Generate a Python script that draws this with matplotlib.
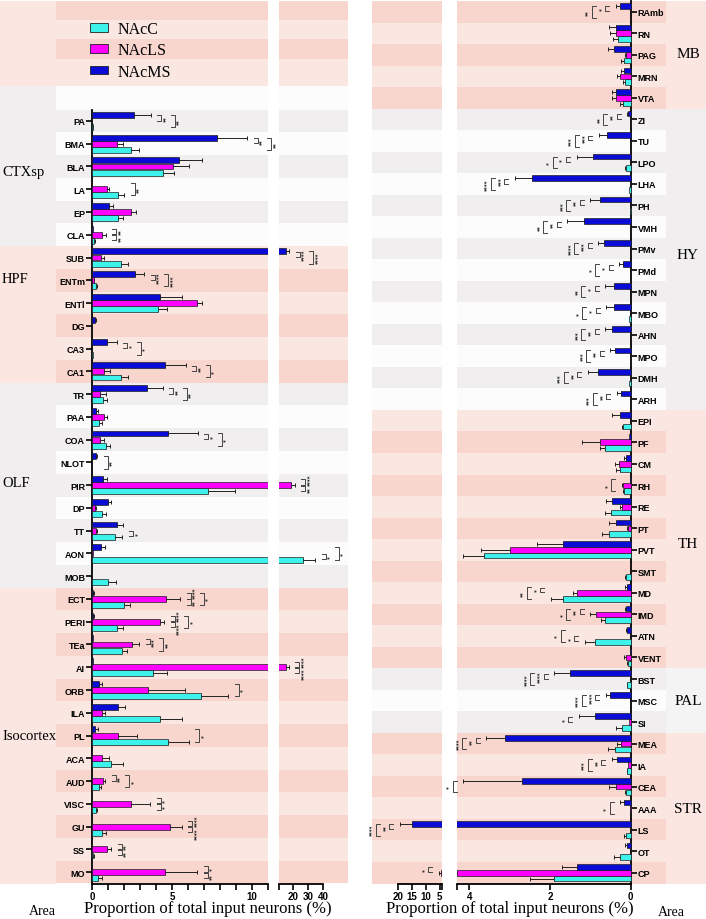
import numpy as np
import matplotlib.pyplot as plt
from matplotlib.patches import Patch

W, H = 706, 920
plt.rcParams['font.family'] = ['Liberation Sans', 'DejaVu Sans']
SERIF = ['Liberation Serif', 'DejaVu Serif']

C_NACC = '#3CF2EA'
C_NACLS = '#FF00FF'
C_NACMS = '#0B0BD6'
EDGE = '#202020'
PINK = ('#F8D5CD', '#FBE7E2')
GREY = ('#F0EEEE', '#FCFCFC')
COL_PINK = '#FBE6E1'
COL_GREY = '#F0EEEE'

series = ['NAcC', 'NAcLS', 'NAcMS']

# ---------------- left panel (cortex, hippocampus, olfactory) ----------------
left_regions = ['PA', 'BMA', 'BLA', 'LA', 'EP', 'CLA',
                'SUB', 'ENTm', 'ENTl', 'DG', 'CA3', 'CA1',
                'TR', 'PAA', 'COA', 'NLOT', 'PIR', 'DP', 'TT', 'AON', 'MOB',
                'ECT', 'PERI', 'TEa', 'AI', 'ORB', 'ILA', 'PL', 'ACA', 'AUD',
                'VISC', 'GU', 'SS', 'MO']
left_groups = ['CTXsp', 'HPF', 'OLF', 'Isocortex']
left_group_sizes = [6, 6, 9, 13]

left_nacc = [0.05, 2.42, 4.42, 1.65, 1.60, 0.15,
             1.79, 0.23, 4.13, 0.00, 0.05, 1.79,
             0.67, 0.46, 0.88, 0.02, 7.23, 0.63, 1.46, 26.7, 1.02,
             2.02, 1.58, 1.88, 3.83, 6.83, 4.27, 4.73, 1.19, 0.46,
             0.23, 0.63, 0.08, 0.38]
left_nacc_err = [0.03, 0.54, 0.71, 0.35, 0.36, 0.05,
                 0.48, 0.07, 0.54, 0.00, 0.00, 0.48,
                 0.29, 0.14, 0.25, 0.00, 1.73, 0.25, 0.42, 7.8, 0.48,
                 0.36, 0.34, 0.33, 0.87, 1.69, 1.38, 1.33, 0.73, 0.10,
                 0.10, 0.25, 0.04, 0.22]
left_nacls = [0.00, 1.58, 5.04, 0.92, 2.42, 0.65,
              0.54, 0.10, 6.54, 0.00, 0.00, 0.73,
              0.52, 0.73, 0.52, 0.00, 18.5, 0.17, 0.23, 0.05, 0.00,
              4.65, 4.25, 2.52, 15.1, 3.52, 0.63, 1.65, 0.60, 0.71,
              2.46, 4.90, 0.92, 4.58]
left_nacls_err = [0.00, 0.38, 1.02, 0.12, 0.31, 0.20,
                  0.23, 0.03, 0.34, 0.00, 0.00, 0.40,
                  0.33, 0.21, 0.25, 0.00, 2.6, 0.05, 0.06, 0.00, 0.00,
                  0.85, 0.27, 0.44, 1.8, 2.29, 0.16, 1.18, 0.44, 0.12,
                  1.19, 0.70, 0.27, 2.00]
left_nacms = [2.65, 7.79, 5.44, 0.00, 1.06, 0.05,
              14.9, 2.67, 4.27, 0.19, 0.96, 4.54,
              3.46, 0.27, 4.73, 0.25, 0.67, 0.98, 1.58, 0.56, 0.00,
              0.08, 0.08, 0.05, 0.05, 0.42, 1.65, 0.21, 0.03, 0.02,
              0.00, 0.00, 0.00, 0.00]
left_nacms_err = [1.02, 1.92, 1.41, 0.00, 0.23, 0.00,
                  2.4, 0.60, 1.33, 0.04, 0.58, 1.31,
                  0.96, 0.11, 1.87, 0.08, 0.29, 0.21, 0.34, 0.27, 0.00,
                  0.03, 0.03, 0.00, 0.00, 0.23, 0.41, 0.14, 0.00, 0.00,
                  0.00, 0.00, 0.00, 0.00]

# significance: pair ('ml' MS-LS, 'lc' LS-C, 'mc' MS-C), stars, bracket column
left_sig = {
    'PA': [('ml', '**', 0), ('mc', '**', 1)],
    'BMA': [('ml', '**', 0), ('mc', '**', 1)],
    'LA': [('mc', '**', 0)],
    'CLA': [('ml', '**', 0), ('lc', '**', 0)],
    'SUB': [('ml', '****', 0), ('mc', '****', 1)],
    'ENTm': [('ml', '****', 0), ('mc', '****', 1)],
    'CA3': [('ml', '*', 0), ('mc', '*', 1)],
    'CA1': [('ml', '**', 0), ('mc', '*', 1)],
    'TR': [('ml', '**', 0), ('mc', '**', 1)],
    'COA': [('ml', '*', 0), ('mc', '*', 1)],
    'NLOT': [('mc', '**', 0)],
    'PIR': [('ml', '****', 0), ('lc', '**', 0)],
    'TT': [('lc', '*', 0)],
    'AON': [('lc', '*', 0), ('mc', '*', 1)],
    'ECT': [('ml', '****', 0), ('lc', '**', 0), ('mc', '*', 1)],
    'PERI': [('ml', '****', 0), ('lc', '****', 0), ('mc', '*', 1)],
    'TEa': [('ml', '***', 0), ('mc', '**', 1)],
    'AI': [('ml', '****', 0), ('lc', '****', 0)],
    'ORB': [('mc', '*', 0)],
    'PL': [('mc', '*', 0)],
    'AUD': [('ml', '**', 0), ('mc', '*', 1)],
    'VISC': [('ml', '*', 0), ('lc', '*', 0)],
    'GU': [('ml', '****', 0), ('lc', '****', 0)],
    'SS': [('ml', '**', 0), ('lc', '**', 0)],
    'MO': [('ml', '*', 0), ('lc', '**', 0)],
}

# ---------------- right panel (midbrain, hypothalamus, thalamus, pallidum, striatum) -------
right_regions = ['RAmb', 'RN', 'PAG', 'MRN', 'VTA',
                 'ZI', 'TU', 'LPO', 'LHA', 'PH', 'VMH', 'PMv', 'PMd', 'MPN', 'MBO',
                 'AHN', 'MPO', 'DMH', 'ARH',
                 'EPI', 'PF', 'CM', 'RH', 'RE', 'PT', 'PVT', 'SMT', 'MD', 'IMD',
                 'ATN', 'VENT',
                 'BST', 'MSC', 'SI',
                 'MEA', 'IA', 'CEA', 'AAA', 'LS', 'OT', 'CP']
right_groups = ['MB', 'HY', 'TH', 'PAL', 'STR']
right_group_sizes = [5, 14, 12, 3, 7]

right_nacc = [0.00, 0.30, 0.16, 0.14, 0.19,
              0.00, 0.00, 0.11, 0.04, 0.02, 0.00, 0.00, 0.00, 0.00, 0.04,
              0.00, 0.00, 0.04, 0.00,
              0.19, 0.63, 0.26, 0.16, 0.49, 0.53, 3.64, 0.11, 1.67, 0.63,
              0.89, 0.07,
              0.08, 0.00, 0.22,
              0.39, 0.08, 0.11, 0.00, 0.11, 0.26, 1.91]
right_nacc_err = [0.00, 0.13, 0.07, 0.05, 0.07,
                  0.00, 0.00, 0.04, 0.00, 0.00, 0.00, 0.00, 0.00, 0.00, 0.00,
                  0.00, 0.00, 0.00, 0.00,
                  0.03, 0.13, 0.11, 0.03, 0.14, 0.19, 0.51, 0.03, 0.31, 0.10,
                  0.25, 0.02,
                  0.02, 0.00, 0.13,
                  0.18, 0.02, 0.04, 0.00, 0.05, 0.14, 0.58]
right_nacls = [0.00, 0.36, 0.11, 0.26, 0.37,
               0.00, 0.00, 0.00, 0.00, 0.00, 0.00, 0.00, 0.00, 0.00, 0.00,
               0.00, 0.00, 0.00, 0.00,
               0.00, 0.76, 0.28, 0.19, 0.22, 0.06, 2.99, 0.00, 1.33, 0.85,
               0.00, 0.11,
               0.00, 0.00, 0.03,
               0.23, 0.07, 0.37, 0.02, 0.00, 0.00, 4.30]
right_nacls_err = [0.00, 0.14, 0.03, 0.07, 0.10,
                   0.00, 0.00, 0.00, 0.00, 0.00, 0.00, 0.00, 0.00, 0.00, 0.00,
                   0.00, 0.00, 0.00, 0.00,
                   0.00, 0.44, 0.10, 0.03, 0.05, 0.02, 0.71, 0.00, 0.09, 0.15,
                   0.00, 0.05,
                   0.00, 0.00, 0.00,
                   0.10, 0.00, 0.17, 0.00, 0.00, 0.00, 1.00]
right_nacms = [0.26, 0.36, 0.41, 0.16, 0.36,
               0.06, 0.59, 0.93, 2.44, 0.76, 1.15, 0.65, 0.19, 0.41, 0.41,
               0.46, 0.38, 0.80, 0.24,
               0.26, 0.03, 0.12, 0.02, 0.46, 0.37, 1.67, 0.00, 0.10, 0.11,
               0.08, 0.02,
               1.50, 0.51, 0.89,
               3.12, 0.34, 2.70, 0.16, 15.1, 0.09, 1.32]
right_nacms_err = [0.11, 0.17, 0.16, 0.08, 0.11,
                   0.02, 0.20, 0.41, 0.43, 0.24, 0.42, 0.15, 0.09, 0.22, 0.19,
                   0.17, 0.12, 0.26, 0.10,
                   0.19, 0.00, 0.04, 0.00, 0.15, 0.16, 0.65, 0.00, 0.03, 0.03,
                   0.03, 0.00,
                   0.39, 0.10, 0.39,
                   0.46, 0.13, 1.45, 0.10, 4.3, 0.06, 0.39]

right_sig = {
    'RAmb': [('ml', '*', 0), ('mc', '**', 1)],
    'ZI': [('ml', '**', 0), ('mc', '**', 1)],
    'TU': [('ml', '***', 0), ('mc', '***', 1)],
    'LPO': [('ml', '*', 0), ('mc', '*', 1)],
    'LHA': [('ml', '***', 0), ('mc', '****', 1)],
    'PH': [('ml', '**', 0), ('mc', '***', 1)],
    'VMH': [('ml', '**', 0), ('mc', '**', 1)],
    'PMv': [('ml', '***', 0), ('mc', '****', 1)],
    'PMd': [('ml', '*', 0), ('mc', '*', 1)],
    'MPN': [('ml', '*', 0), ('mc', '**', 1)],
    'MBO': [('ml', '*', 0), ('mc', '*', 1)],
    'AHN': [('ml', '**', 0), ('mc', '***', 1)],
    'MPO': [('ml', '**', 0), ('mc', '***', 1)],
    'DMH': [('ml', '**', 0), ('mc', '***', 1)],
    'ARH': [('ml', '**', 0), ('mc', '***', 1)],
    'RH': [('mc', '*', 0)],
    'MD': [('ml', '*', 0), ('mc', '**', 1)],
    'IMD': [('ml', '**', 0), ('mc', '*', 1)],
    'ATN': [('lc', '*', 0), ('mc', '*', 1)],
    'BST': [('ml', '****', 0), ('mc', '****', 1)],
    'MSC': [('ml', '****', 0), ('mc', '****', 1)],
    'SI': [('ml', '*', 0)],
    'MEA': [('ml', '**', 0), ('mc', '****', 1)],
    'IA': [('ml', '**', 0), ('mc', '***', 1)],
    'CEA': [('mc', '*', 0)],
    'AAA': [('mc', '*', 0)],
    'LS': [('ml', '**', 0), ('mc', '****', 1)],
    'CP': [('ml', '*', 0)],
}

# layout helpers
OFF = {'NAcMS': -0.27, 'NAcLS': 0.0, 'NAcC': 0.27}
PAIR = {'ml': (-0.25, -0.02), 'lc': (0.02, 0.25), 'mc': (-0.27, 0.27)}
BAR_H = 0.26
STAR_PT = 4

fig = plt.figure(figsize=(W / 100, H / 100), dpi=100)


def fax(x0, x1, top=2, bot=884.5):
    return fig.add_axes([x0 / W, 1 - bot / H, (x1 - x0) / W, (bot - top) / H])


def row_bands(sizes, palettes, first_dark):
    spans, y = [], 0
    for n, pal, fd in zip(sizes, palettes, first_dark):
        for i in range(n):
            dark = (i % 2 == 0) == fd
            spans.append((y - 0.5, y + 0.5, pal[0] if dark else pal[1]))
            y += 1
    return spans


def paint(ax, spans):
    for y0, y1, c in spans:
        ax.axhspan(y0, y1, color=c, lw=0, zorder=0)


def clean(ax):
    for s in ['top', 'left', 'right']:
        ax.spines[s].set_visible(False)
    ax.spines['bottom'].set_linewidth(1.3)
    ax.tick_params(axis='x', length=4, width=1.2, labelsize=7, pad=1.5)
    ax.set_yticks([])


def ppu(ax):
    x0, x1 = ax.get_xlim()
    return ax.get_position().width * W / abs(x1 - x0)


def rowpx(ax):
    y0, y1 = ax.get_ylim()
    return ax.get_position().height * H / abs(y1 - y0)


def bars(ax, vals, errs, lo=-1.0):
    n = len(vals['NAcC'])
    y = np.arange(n)
    cols = {'NAcC': C_NACC, 'NAcLS': C_NACLS, 'NAcMS': C_NACMS}
    for s in series:
        v = np.array(vals[s])
        e = np.array(errs[s])
        ax.barh(y + OFF[s], v, height=BAR_H, color=cols[s], edgecolor=EDGE,
                linewidth=0.5, zorder=3)
        m = (e > 0) & (v + e > lo + 0.15)
        ax.errorbar(v[m], y[m] + OFF[s], xerr=[np.zeros(m.sum()), e[m]], fmt='none',
                    ecolor='#222222', elinewidth=0.7, capsize=1.6, capthick=0.7,
                    zorder=2)


def brackets(ax_main, ax_brk, limit, regions, vals, errs, sig):
    for r, items in sig.items():
        i = regions.index(r)
        end = max(vals[s][i] + errs[s][i] for s in series)
        ax = ax_brk if end > limit else ax_main
        u = 1.0 / ppu(ax)
        rp = rowpx(ax)
        stacked = {c for p, _, c in items if p == 'ml'} & {c for p, _, c in items if p == 'lc'}
        for pair, stars, col in items:
            xs = end + (6.5 + 13.5 * col) * u
            xv = xs + 4 * u
            y0, y1 = PAIR[pair]
            ax.plot([xs, xv, xv, xs], [i + y0, i + y0, i + y1, i + y1], color='#444444',
                    lw=0.7, clip_on=False, zorder=4)
            ym = (y0 + y1) / 2
            if col in stacked:
                half = (len(stars) * 0.5 * STAR_PT * 100 / 72 / 2 + 0.8) / rp
                ym = -max(half, -ym) if pair == 'ml' else max(half, ym)
            ax.text(xv + 4 * u, i + ym, stars, rotation=90, fontsize=STAR_PT,
                    fontweight='bold', ha='center', va='center', color='#222222',
                    family='DejaVu Sans')


# ======================= LEFT PANEL =======================
YL = (33.5, -5.27)
left_spans = row_bands(left_group_sizes, [GREY, PINK, GREY, PINK], [True, False, True, True])
top_spans = [(-5.27, -4.44, PINK[0]), (-4.44, -3.6, PINK[1]), (-3.6, -2.72, PINK[0]),
             (-2.72, -1.54, PINK[1]), (-1.54, -0.5, GREY[1])]
lvals = {'NAcC': left_nacc, 'NAcLS': left_nacls, 'NAcMS': left_nacms}
lerrs = {'NAcC': left_nacc_err, 'NAcLS': left_nacls_err, 'NAcMS': left_nacms_err}

axg = fax(0, 56)
axg.set_xlim(0, 1)
axg.set_ylim(*YL)
axg.axis('off')
axg.axhspan(-5.27, -1.54, color=COL_PINK, lw=0)
gcols = [COL_GREY, COL_PINK, COL_GREY, COL_PINK]
label_rows = [2.2, 6.9, 15.9, 27.0]
y = -0.5
for g, n, c, ly in zip(left_groups, left_group_sizes, gcols, label_rows):
    lo = -1.54 if g == 'CTXsp' else y
    axg.axhspan(lo, y + n, color=c, lw=0)
    axg.text(2 / 56, ly, g, family=SERIF, fontsize=10.5, ha='left', va='center')
    y += n

axL = fax(56, 268)
axL.set_xlim(-2.25, 11)
axL.set_ylim(*YL)
paint(axL, top_spans + left_spans)
bars(axL, lvals, lerrs)
clean(axL)
axL.spines['left'].set_visible(True)
axL.spines['left'].set_position(('data', 0))
axL.spines['left'].set_bounds(-0.5, 33.5)
axL.spines['left'].set_linewidth(1.3)
axL.spines['bottom'].set_bounds(0, 11)
axL.set_xticks(range(12))
axL.set_xticklabels(['0', '', '', '', '', '5', '', '', '', '', '10', ''], fontweight='bold')
axL.set_yticks(range(len(left_regions)))
axL.set_yticklabels(left_regions, fontweight='bold')
axL.tick_params(axis='y', length=4, width=1.2, labelsize=6.5, pad=1)

axLb = fax(279, 348.3)
axLb.set_xlim(10.47, 56.7)
axLb.set_ylim(*YL)
paint(axLb, top_spans + left_spans)
bars(axLb, lvals, lerrs, lo=10.47)
clean(axLb)
axLb.spines['bottom'].set_bounds(10.47, 40)
axLb.set_xticks([10.47, 20, 30, 40])
axLb.set_xticklabels(['', '20', '30', '40'], fontweight='bold')

brackets(axL, axLb, 11, left_regions, lvals, lerrs, left_sig)

# ======================= RIGHT PANEL =======================
YR = (40.5, -0.5)
right_spans = row_bands(right_group_sizes, [PINK, GREY, PINK, GREY, PINK],
                        [True, True, False, True, True])
rvals = {'NAcC': right_nacc, 'NAcLS': right_nacls, 'NAcMS': right_nacms}
rerrs = {'NAcC': right_nacc_err, 'NAcLS': right_nacls_err, 'NAcMS': right_nacms_err}

axRb = fax(372, 441.7)
axRb.set_xlim(29.6, 4.2)
axRb.set_ylim(*YR)
paint(axRb, right_spans)
bars(axRb, rvals, rerrs, lo=4.2)
clean(axRb)
axRb.spines['bottom'].set_bounds(4.2, 20)
axRb.set_xticks([4.2, 5, 10, 15, 20])
axRb.set_xticklabels(['', '5', '10', '15', '20'], fontweight='bold')

axR = fax(456.7, 666)
axR.set_xlim(4.31, -0.878)
axR.set_ylim(*YR)
paint(axR, right_spans)
bars(axR, rvals, rerrs)
clean(axR)
axR.spines['right'].set_visible(True)
axR.spines['right'].set_position(('data', 0))
axR.spines['right'].set_linewidth(1.3)
axR.spines['bottom'].set_bounds(0, 4.31)
axR.set_xticks([0, 2, 4, 4.31])
axR.set_xticklabels(['0', '2', '4', ''], fontweight='bold')
axR.yaxis.tick_right()
axR.set_yticks(range(len(right_regions)))
axR.set_yticklabels(right_regions, fontweight='bold')
axR.tick_params(axis='y', length=4, width=1.2, labelsize=6.5, pad=1)

brackets(axR, axRb, 4.2, right_regions, rvals, rerrs, right_sig)

axg2 = fax(666, 706)
axg2.set_xlim(0, 1)
axg2.set_ylim(*YR)
axg2.axis('off')
gcols = [COL_PINK, COL_GREY, COL_PINK, '#F5F4F4', COL_PINK]
label_rows = [1.96, 11.3, 24.7, 32.0, 37.0]
y = -0.5
for g, n, c, ly in zip(right_groups, right_group_sizes, gcols, label_rows):
    axg2.axhspan(y, y + n, color=c, lw=0)
    axg2.text(0.55, ly, g, family=SERIF, fontsize=11, ha='center', va='center')
    y += n

# ======================= legend and labels =======================
handles = [Patch(facecolor=c, edgecolor=EDGE, linewidth=0.6) for c in (C_NACC, C_NACLS, C_NACMS)]
fig.legend(handles, series, loc='upper left', bbox_to_anchor=(90 / W, 1 - 22 / H),
           frameon=False, prop={'family': SERIF, 'size': 11.5}, borderpad=0,
           borderaxespad=0, handlelength=1.15, handleheight=0.45, handletextpad=0.6,
           labelspacing=0.33)

fig.text(208 / W, 1 - 909 / H, 'Proportion of total input neurons (%)', family=SERIF,
         fontsize=12, ha='center', va='center')
fig.text(510 / W, 1 - 909 / H, 'Proportion of total input neurons (%)', family=SERIF,
         fontsize=12, ha='center', va='center')
fig.text(42 / W, 1 - 912 / H, 'Area', family=SERIF, fontsize=10, ha='center', va='center')
fig.text(671 / W, 1 - 913 / H, 'Area', family=SERIF, fontsize=10, ha='center', va='center')

fig.savefig('out.png', dpi=100)
